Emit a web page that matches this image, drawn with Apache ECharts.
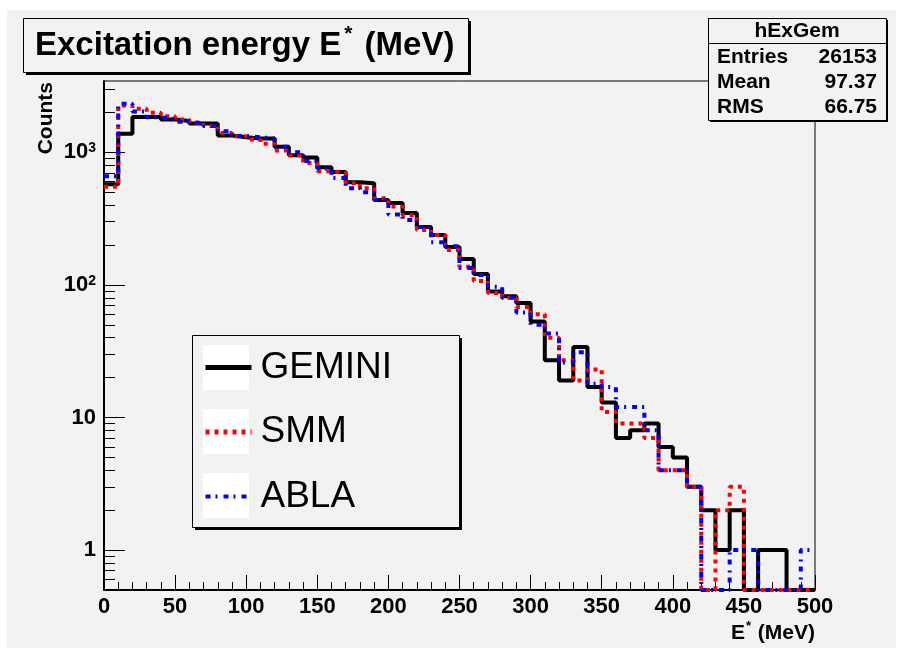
<!DOCTYPE html>
<html>
<head>
<meta charset="utf-8">
<script src="https://cdn.jsdelivr.net/npm/echarts@6/dist/echarts.min.js"></script>
<style>
html,body{margin:0;padding:0;background:#ffffff;}
#chart{width:898px;height:656px;}
</style>
</head>
<body>
<div id="chart"></div>
<script>
// ---------- data ----------
const xMin = 0;
const xMax = 500;
const binWidth = 10;               // MeV per bin
const xTickInterval = 50;
const yMin = 0.5;
const yMax = 3450;
const yLabelValues = [1, 10, 100, 1000];
const yLabelTexts = ['1', '10', '10{sup|2}', '10{sup|3}'];
const yMinorValues = [0.6, 0.7, 0.8, 0.9,
  2, 3, 4, 5, 6, 7, 8, 9,
  20, 30, 40, 50, 60, 70, 80, 90,
  200, 300, 400, 500, 600, 700, 800, 900,
  2000, 3000];
const seriesNames = ['GEMINI', 'SMM', 'ABLA'];
// counts per 10 MeV bin, from 0-10 MeV to 490-500 MeV
const gemini = [574, 1380, 1850, 1850, 1770, 1720, 1650, 1650, 1340, 1300,
  1270, 1270, 1100, 950, 913, 771, 711, 595, 584, 436,
  414, 348, 273, 238, 193, 157, 121, 89, 82, 73,
  53, 27, 19, 34, 17, 13, 7, 8, 9, 6,
  5, 3, 2, 1, 2, 0, 1, 1, 0, 0];
const smm = [550, 2250, 2130, 1990, 1870, 1770, 1670, 1580, 1400, 1320,
  1250, 1160, 1030, 950, 830, 720, 700, 585, 535, 450,
  390, 335, 260, 238, 183, 137, 107, 87, 80, 68,
  60, 40, 27, 19, 23, 11, 9, 9, 7, 4,
  4, 3, 0, 2, 3, 0, 0, 0, 0, 0];
const abla = [660, 2320, 2030, 1840, 1780, 1700, 1650, 1580, 1440, 1330,
  1300, 1270, 1100, 1000, 860, 754, 640, 535, 500, 436,
  340, 308, 273, 210, 196, 134, 119, 97, 80, 62,
  50, 43, 26, 31, 18, 17, 12, 12, 8, 4,
  4, 3, 0, 0, 1, 1, 0, 0, 0, 1];
const titleParts = ['Excitation energy E', '*', ' (MeV)'];
const xTitleParts = ['E', '*', ' (MeV)'];
const yTitle = 'Counts';
const statsTitle = 'hExGem';
const statsLabels = ['Entries', 'Mean', 'RMS'];
const statsValues = ['26153', '97.37', '66.75'];

// ---------- helpers ----------
function toSteps(values) {
  const pts = values.map((v, i) => [xMin + i * binWidth, v > 0 ? v : yMin]);
  const last = values[values.length - 1];
  pts.push([xMin + values.length * binWidth, last > 0 ? last : yMin]);
  return pts;
}

const FONT = "'Liberation Sans', Arial, Helvetica, sans-serif";
const BG = '#f2f2f2';
const lineStyles = [
  {color: '#000000', width: 4, type: 'solid'},
  {color: '#ff0000', width: 4, type: [4, 5], cap: 'butt'},
  {color: '#0000ff', width: 4, type: [5, 5, 2, 6], cap: 'butt'}
];
const legendLineStyles = [
  {color: '#000000', width: 5, type: 'solid'},
  {color: '#ff0000', width: 5, type: [4, 5], cap: 'butt'},
  {color: '#0000ff', width: 4, type: [5, 5, 2, 6], cap: 'butt'}
];

const chart = echarts.init(document.getElementById('chart'), null, {renderer: 'canvas'});

const graphics = [];
// canvas background
graphics.push({type: 'rect', z: -100, silent: true,
  shape: {x: 7, y: 10, width: 889, height: 638}, style: {fill: BG}});

// title box
graphics.push({type: 'rect', z: 10, shape: {x: 26, y: 21, width: 445, height: 54}, style: {fill: '#000'}});
graphics.push({type: 'rect', z: 11, shape: {x: 23.5, y: 18.5, width: 445, height: 54},
  style: {fill: BG, stroke: '#000', lineWidth: 1}});
graphics.push({type: 'text', z: 12, x: 35, y: 46,
  style: {
    text: '{t|' + titleParts[0] + '}{s|' + titleParts[1] + '}{t|' + titleParts[2] + '}',
    verticalAlign: 'middle', align: 'left',
    rich: {
      t: {fontFamily: FONT, fontWeight: 'bold', fontSize: 33, fill: '#000', lineHeight: 44},
      s: {fontFamily: FONT, fontWeight: 'bold', fontSize: 21, fill: '#000', verticalAlign: 'top', lineHeight: 21, padding: [0, 3, 0, 3]}
    }
  }});

// stats box
graphics.push({type: 'rect', z: 10, shape: {x: 710, y: 20, width: 178, height: 102}, style: {fill: '#000'}});
graphics.push({type: 'rect', z: 11, shape: {x: 708.5, y: 18.5, width: 178, height: 102},
  style: {fill: BG, stroke: '#000', lineWidth: 1}});
graphics.push({type: 'line', z: 12, shape: {x1: 708.5, y1: 43.5, x2: 886.5, y2: 43.5},
  style: {stroke: '#000', lineWidth: 1}});
graphics.push({type: 'text', z: 12, x: 797, y: 31,
  style: {text: statsTitle, align: 'center', verticalAlign: 'middle',
    font: 'bold 21px ' + FONT, fill: '#000'}});
statsLabels.forEach((lab, i) => {
  const yy = 57 + i * 25;
  graphics.push({type: 'text', z: 12, x: 717, y: yy,
    style: {text: lab, align: 'left', verticalAlign: 'middle', font: 'bold 21px ' + FONT, fill: '#000'}});
  graphics.push({type: 'text', z: 12, x: 877, y: yy,
    style: {text: statsValues[i], align: 'right', verticalAlign: 'middle', font: 'bold 21px ' + FONT, fill: '#000'}});
});

// legend box
graphics.push({type: 'rect', z: 10, shape: {x: 195, y: 338, width: 267, height: 192}, style: {fill: '#000'}});
graphics.push({type: 'rect', z: 11, shape: {x: 192.5, y: 335.5, width: 267, height: 192},
  style: {fill: BG, stroke: '#000', lineWidth: 1}});
for (let i = 0; i < seriesNames.length; i++) {
  graphics.push({type: 'rect', z: 12, shape: {x: 203, y: 345 + i * 64, width: 46, height: 45},
    style: {fill: '#ffffff'}});
}

// axis titles
graphics.push({type: 'text', z: 12, x: 46, y: 82, rotation: Math.PI / 2,
  style: {text: yTitle, align: 'right', verticalAlign: 'middle', font: 'bold 21px ' + FONT, fill: '#000'}});
graphics.push({type: 'text', z: 12, x: 815, y: 633,
  style: {
    text: '{t|' + xTitleParts[0] + '}{s|' + xTitleParts[1] + '}{t|' + xTitleParts[2] + '}',
    align: 'right', verticalAlign: 'middle',
    rich: {
      t: {fontFamily: FONT, fontWeight: 'bold', fontSize: 21, fill: '#000', lineHeight: 26},
      s: {fontFamily: FONT, fontWeight: 'bold', fontSize: 13, fill: '#000', verticalAlign: 'top', lineHeight: 13, padding: [0, 1, 0, 1]}
    }
  }});

const option = {
  animation: false,
  backgroundColor: '#ffffff',
  graphic: graphics,
  grid: {left: 104, top: 81, width: 711, height: 509, show: true,
    borderColor: '#000', borderWidth: 1, backgroundColor: 'transparent', containLabel: false},
  legend: {
    z: 20,
    orient: 'vertical', left: 203, top: 349, padding: 0,
    itemWidth: 46, itemHeight: 45, itemGap: 27.5,
    data: seriesNames.map((n, i) => ({name: n, lineStyle: legendLineStyles[i]})),
    itemStyle: {opacity: 0},
    textStyle: {fontFamily: FONT, fontSize: 37, color: '#000', padding: [0, 0, 0, 4]},
    selectedMode: false
  },
  xAxis: {
    type: 'value', min: xMin, max: xMax, interval: xTickInterval,
    axisLine: {show: true, onZero: false, lineStyle: {color: '#000', width: 2}},
    axisTick: {show: true, inside: true, length: 15, lineStyle: {color: '#000', width: 1}},
    minorTick: {show: true, splitNumber: 5, length: 8, lineStyle: {color: '#000', width: 1}},
    axisLabel: {show: true, margin: 6, fontFamily: FONT, fontWeight: 'bold', fontSize: 22, color: '#000'},
    splitLine: {show: false}
  },
  yAxis: [{
    type: 'log', logBase: 10, min: yMin, max: yMax, position: 'left',
    axisLine: {show: true, lineStyle: {color: '#000', width: 2}},
    axisTick: {show: true, inside: true, length: 21, customValues: yLabelValues,
      lineStyle: {color: '#000', width: 1}},
    axisLabel: {show: true, margin: 8, customValues: yLabelValues,
      fontFamily: FONT, fontWeight: 'bold', fontSize: 22, color: '#000',
      formatter: function (v) {
        const k = Math.round(Math.log10(v));
        const idx = yLabelValues.findIndex(x => Math.round(Math.log10(x)) === k);
        return idx >= 0 ? yLabelTexts[idx] : '';
      },
      rich: {
        sup: {fontFamily: FONT, fontWeight: 'bold', fontSize: 14, color: '#000', verticalAlign: 'top'}
      }
    },
    splitLine: {show: false}
  }, {
    type: 'log', logBase: 10, min: yMin, max: yMax, position: 'left', offset: 0,
    axisLine: {show: false},
    axisTick: {show: true, inside: true, length: 11, customValues: yMinorValues,
      lineStyle: {color: '#000', width: 1}},
    axisLabel: {show: false},
    splitLine: {show: false}
  }],
  series: seriesNames.map((n, i) => ({
    name: n, type: 'line', step: 'end', symbol: 'none', yAxisIndex: 0,
    data: toSteps([gemini, smm, abla][i]), z: 2 + i,
    lineStyle: lineStyles[i]
  }))
};
chart.setOption(option);
</script>
</body>
</html>
